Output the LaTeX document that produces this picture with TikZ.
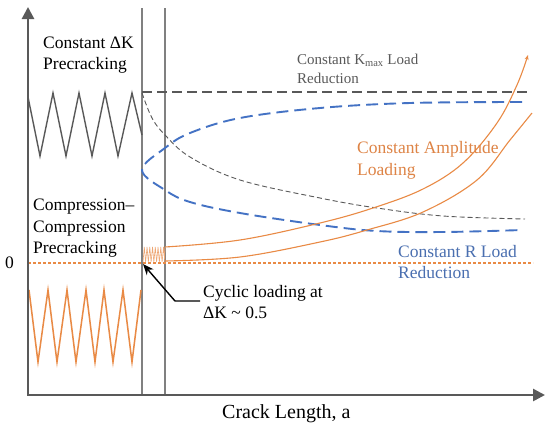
\documentclass[tikz,border=0pt]{standalone}
\usepackage{fontspec}
\setmainfont{Liberation Serif}
\usetikzlibrary{arrows.meta}
\definecolor{axisgray}{HTML}{595959}
\definecolor{linegray}{HTML}{808080}
\definecolor{orng}{HTML}{E98A45}
\definecolor{orngtext}{HTML}{DE8446}
\definecolor{blu}{HTML}{4472C4}
\definecolor{blutext}{HTML}{4A6FB0}
\begin{document}
\begin{tikzpicture}[x=1pt,y=-1pt,
  lbl/.style={anchor=base west,inner sep=0pt,font=\fontsize{17.5}{21}\selectfont},
  axisline/.style={draw=axisgray,line width=2.6pt,-{Triangle[length=12pt,width=12pt]}},
  vline/.style={draw=linegray,line width=1.1pt},
  kmaxline/.style={draw=axisgray,line width=1.5pt,dash pattern=on 10pt off 5pt},
  thindash/.style={draw=axisgray,line width=0.9pt,dash pattern=on 5pt off 3pt},
  bluedash/.style={draw=blu,line width=1.9pt,dash pattern=on 12pt off 6pt},
  orngline/.style={draw=orng,line width=1.1pt},
  zerodash/.style={draw=orng,line width=1.2pt,dash pattern=on 3pt off 2pt}]
\useasboundingbox (0,0) rectangle (550,424);
\fill[white] (0,0) rectangle (550,424);

% vertical separators
\draw[vline] (142,8) -- (142,395);
\draw[vline] (165,8) -- (165,395);

% zero line
\draw[zerodash] (28,263) -- (533,263);

% constant Kmax line
\draw[kmaxline] (142,92) -- (527,92);

% thin gray dashed curve
\draw[thindash] plot[smooth,tension=0.6] coordinates {(142,93) (152,118) (165,135) (190,157) (240,180) (320,198) (377,208) (443,216) (525,219)};

% blue dashed curve
\draw[bluedash] plot[smooth,tension=0.6] coordinates {(522,102) (410,103) (320,108) (240,118) (190,133) (165,148) (142,170) (165,190) (190,202) (240,213) (320,225) (377,231) (443,232) (523,230)};

% orange curves
\draw[orngline,-{Stealth[length=5pt,width=4pt]}] plot[smooth,tension=0.6] coordinates {(165,247) (240,240) (320,223) (373,208) (423,189) (463,163) (497,123) (517,85) (528,55)};
\draw[orngline] plot[smooth,tension=0.6] coordinates {(165,261) (240,257) (320,242) (367,230) (423,212) (477,180) (510,140) (532,113)};

% small zigzag
\draw[orng!75,line width=0.6pt] (143,262)
  \foreach \i in {0,...,7} { -- ({144.3+2.75*\i},247) -- ({145.6+2.75*\i},262) } -- (165,247);

% gray zigzag
\draw[axisgray,line width=1.4pt] (28,97) -- (40,156) -- (53,93) -- (66,156) -- (79,93) -- (92,156) -- (105,93) -- (118,156) -- (132,93) -- (142,135);

% orange zigzag
\draw[orng,line width=1.5pt] (29,290) -- (38,362) -- (48,290) -- (57,362) -- (67,290) -- (76,362) -- (86,290) -- (95,362) -- (104,290) -- (113,362) -- (123,290) -- (132,362) -- (141,290);

% axes
\draw[axisline] (28,395) -- (28,7);
\draw[axisline] (27,395) -- (545,395);

% labels
\node[lbl] (dk1) at (43,48) {Constant ΔK};
\node[lbl] (dk2) at (43,69) {Precracking};
\node[lbl] (cc1) at (33,210) {Compression–};
\node[lbl] (cc2) at (33,232) {Compression};
\node[lbl] (cc3) at (33,253) {Precracking};
\node[lbl] (zero) at (5,268) {0};
\node[lbl,text=axisgray,font=\fontsize{15}{18}\selectfont] (km1) at (297,64) {Constant K\textsubscript{max} Load};
\node[lbl,text=axisgray,font=\fontsize{15}{18}\selectfont] (km2) at (297,83) {Reduction};
\node[lbl,text=orngtext] (ca1) at (357,153) {Constant Amplitude};
\node[lbl,text=orngtext] (ca2) at (357,175) {Loading};
\node[lbl,text=blutext] (cr1) at (398,257) {Constant R Load};
\node[lbl,text=blutext] (cr2) at (398,278) {Reduction};
\node[lbl] (cy1) at (203,297) {Cyclic loading at};
\node[lbl] (cy2) at (203,318) {ΔK \textasciitilde{} 0.5};
\node[lbl,font=\fontsize{20}{24}\selectfont] (xl) at (222,418) {Crack Length, a};

% arrow
\coordinate (astart) at (200,301);
\coordinate (abend) at (175,301);
\coordinate (atip) at (143,264);
\draw[black,line width=1.4pt,-{Stealth[length=11pt,width=9pt]}] (astart) -- (abend) -- (atip);
\end{tikzpicture}
\end{document}
